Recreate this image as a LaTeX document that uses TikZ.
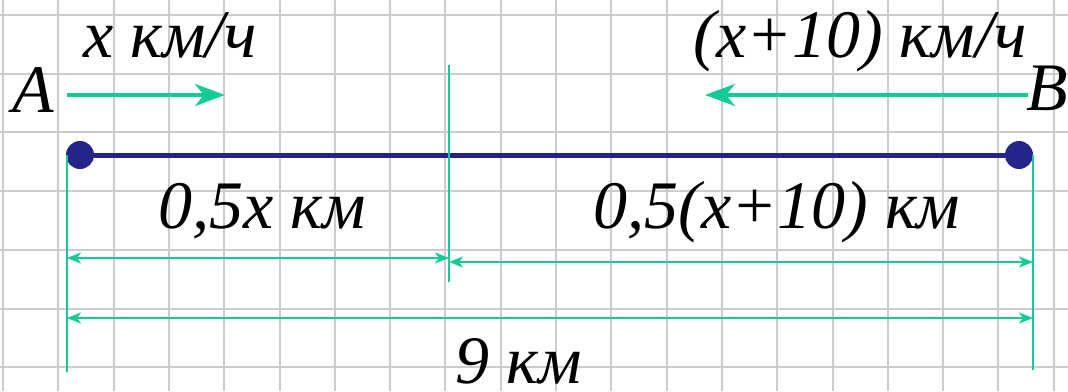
\documentclass[tikz,border=0pt]{standalone}
\usepackage{fontspec}
\setmainfont{Liberation Serif}
\usetikzlibrary{arrows.meta, positioning}
\definecolor{roadblue}{RGB}{36, 36, 138}
\definecolor{markgreen}{RGB}{18, 204, 150}
\definecolor{gridgray}{RGB}{204, 204, 208}

\begin{document}
\begin{tikzpicture}[x=1pt, y=-1pt,
  gridline/.style={draw=gridgray, line width=2pt},
  road/.style={draw=roadblue, line width=5pt},
  town/.style={circle, fill=roadblue, minimum size=28pt, inner sep=0pt},
  guide/.style={draw=markgreen, line width=2pt},
  dim/.style={{Stealth[length=14pt, width=11pt, inset=4pt]}-{Stealth[length=14pt, width=11pt, inset=4pt]},
              markgreen, line width=2pt},
  move/.style={-{Stealth[length=30pt, width=22pt, inset=9pt]}, markgreen, line width=4pt},
  lbl/.style={font=\fontsize{68}{80}\selectfont\itshape, inner sep=0pt, anchor=base}
]
  \useasboundingbox (0,0) rectangle (1068,391);
  \fill[white] (0,0) rectangle (1068,391);

  % squared paper
  \foreach \i in {0,...,19}
    \draw[gridline] ({3+55.3*\i},0) -- ({3+55.3*\i},391);
  \foreach \j in {0,...,6}
    \draw[gridline] (0,{15+58.7*\j}) -- (1068,{15+58.7*\j});

  % road and towns
  \node[town] (dotA) at (80,155) {};
  \node[town] (dotB) at (1019,155) {};
  \draw[road] (dotA) -- (dotB);
  \node[lbl] (labA) at (33,112) {A};
  \node[lbl] (labB) at (1047,110) {B};

  % guide lines
  \coordinate (lTop) at (67,155);
  \coordinate (lBot) at (67,372);
  \coordinate (mTop) at (449,65);
  \coordinate (mBot) at (449,282);
  \coordinate (rTop) at (1033,155);
  \coordinate (rBot) at (1033,370);
  \draw[guide] (lTop) -- (lBot);
  \draw[guide] (mTop) -- (mBot);
  \draw[guide] (rTop) -- (rBot);

  % speeds
  \coordinate (goA) at (67,95);
  \coordinate (toA) at (225,95);
  \coordinate (goB) at (1028,95);
  \coordinate (toB) at (705,95);
  \draw[move] (goA) -- (toA);
  \draw[move] (goB) -- (toB);
  \node[lbl] (speedA) at (170,57) {x км/ч};
  \node[lbl] (speedB) at (860,57) {(x+10) км/ч};

  % distances
  \coordinate (d1l) at (67,258);
  \coordinate (d1r) at (449,258);
  \coordinate (d2l) at (449,262);
  \coordinate (d2r) at (1033,262);
  \coordinate (d3l) at (67,318);
  \coordinate (d3r) at (1033,318);
  \draw[dim] (d1l) -- (d1r);
  \draw[dim] (d2l) -- (d2r);
  \draw[dim] (d3l) -- (d3r);
  \node[lbl] (partA) at (262,228) {0,5x км};
  \node[lbl] (partB) at (777,228) {0,5(x+10) км};
  \node[lbl, text depth=0pt] (total) at (519,383) {9 км};
\end{tikzpicture}
\end{document}
